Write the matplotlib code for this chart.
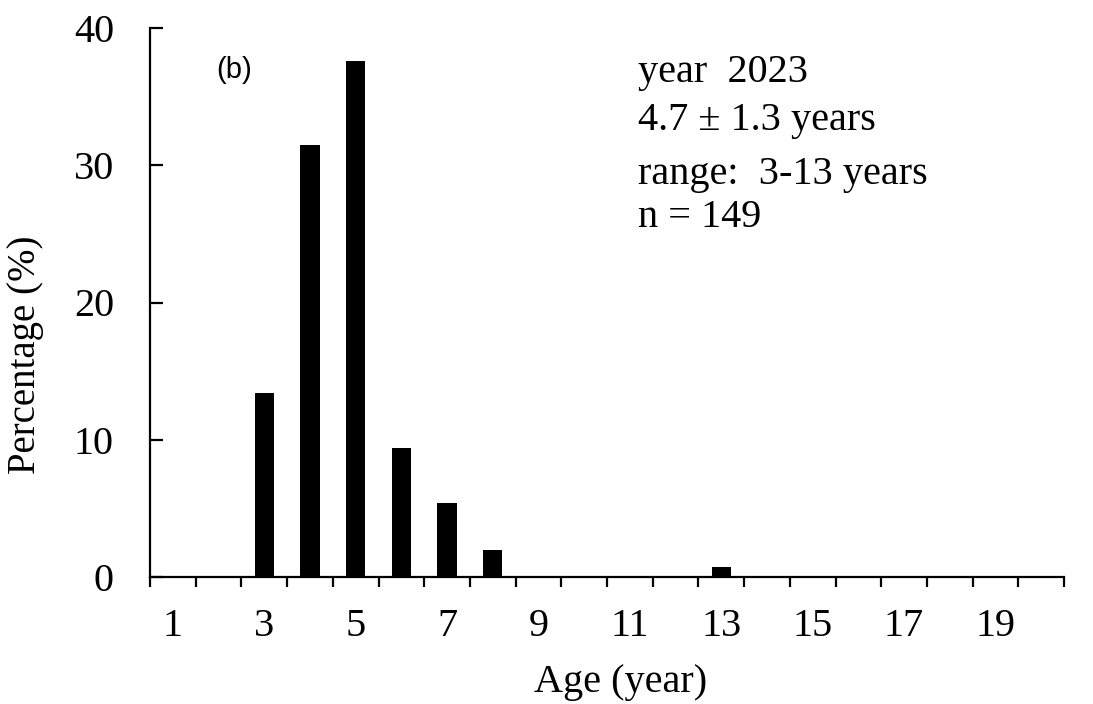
import matplotlib
matplotlib.use("Agg")
import matplotlib.pyplot as plt
import numpy as np

ages = list(range(1, 21))
percent = [0, 0, 13.4, 31.5, 37.6, 9.4, 5.4, 2.0, 0, 0, 0, 0, 0.7, 0, 0, 0, 0, 0, 0, 0]
tick_labels = ["1", "3", "5", "7", "9", "11", "13", "15", "17", "19"]
label_pos = [1, 3, 5, 7, 9, 11, 13, 15, 17, 19]
y_ticks = [0, 10, 20, 30, 40]
info_lines = ["year  2023", "4.7 \u00b1 1.3 years", "range:  3-13 years", "n = 149"]

W, H = 1093, 704
fig = plt.figure(figsize=(W / 100, H / 100), dpi=100)
serif = "Liberation Serif"
ax_left, ax_right, ax_top, ax_bot = 150, 1064, 28, 577
ax = fig.add_axes([ax_left / W, 1 - ax_bot / H, (ax_right - ax_left) / W, (ax_bot - ax_top) / H])

ax.bar(ages, percent, width=0.42, color="black", zorder=3)

ax.set_xlim(0.5, 20.5)
ax.set_ylim(0, 40)
for s in ["top", "right"]:
    ax.spines[s].set_visible(False)
for s in ["left", "bottom"]:
    ax.spines[s].set_linewidth(1.6)

ax.set_xticks(np.arange(0.5, 21, 1.0))
ax.set_xticklabels([])
ax.tick_params(axis="x", which="major", direction="out", length=7.5, width=1.6)
ax.set_xticks(label_pos, minor=True)
ax.set_xticklabels(tick_labels, minor=True, fontfamily=serif, fontsize=29)
ax.tick_params(axis="x", which="minor", length=0, pad=22)

ax.set_yticks(y_ticks)
ax.set_yticklabels([str(v) for v in y_ticks], fontfamily=serif, fontsize=29)
ax.tick_params(axis="y", direction="in", length=9.5, width=1.6, pad=26)

ax.set_ylabel("Percentage (%)", fontfamily=serif, fontsize=28, va="center")
ax.yaxis.set_label_coords((26 - ax_left) / (ax_right - ax_left), (ax_bot - 355) / (ax_bot - ax_top))
ax.set_xlabel("Age (year)", fontfamily=serif, fontsize=29, va="baseline")
ax.xaxis.set_label_coords((621 - ax_left) / (ax_right - ax_left), (ax_bot - 692) / (ax_bot - ax_top))

fig.text(216 / W, 1 - 78 / H, "(b)", fontfamily="Liberation Sans", fontsize=21, va="baseline", ha="left")

baselines = [82, 130, 184, 227]
for txt, yb in zip(info_lines, baselines):
    fig.text(638 / W, 1 - yb / H, txt, fontfamily=serif, fontsize=29, va="baseline", ha="left")

fig.savefig("out.png", dpi=100)
